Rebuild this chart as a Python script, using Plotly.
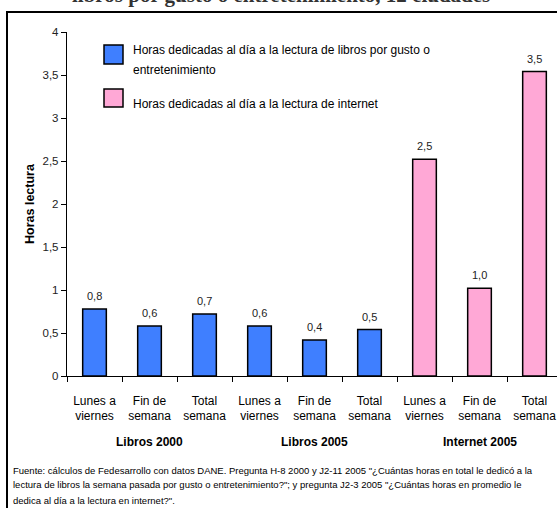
import plotly.graph_objects as go

# ---- data ----
categories = ["Lunes a<br>viernes", "Fin de<br>semana", "Total<br>semana"] * 3
groups = ["Libros 2000", "Libros 2005", "Internet 2005"]
libros_vals = [0.78, 0.58, 0.72, 0.58, 0.42, 0.54]
internet_vals = [2.52, 1.02, 3.54]
y_ticks = [0, 0.5, 1, 1.5, 2, 2.5, 3, 3.5, 4]
legend_libros = ["Horas dedicadas al día a la lectura de libros por gusto o", "entretenimiento"]
legend_internet = "Horas dedicadas al día a la lectura de internet"
y_title = "Horas lectura"
top_title = "libros por gusto o entretenimiento, 12 ciudades"
footnote = [
    "Fuente: cálculos de Fedesarrollo con datos DANE. Pregunta H-8 2000 y J2-11 2005 \"¿Cuántas horas en total le dedicó a la",
    "lectura de libros la semana pasada por gusto o entretenimiento?\"; y pregunta J2-3 2005 \"¿Cuántas horas en promedio le",
    "dedica al día a la lectura en internet?\".",
]

BLUE = "#3F7FFF"
PINK = "#FFA8D6"
FONT = "Liberation Sans, Arial, sans-serif"

W, H = 557, 508
L, R, T, B = 67, 0, 32, 132
PW, PH = W - L - R, H - T - B


def px_x(px):
    return (px - L) / PW


def px_y(py):
    return (H - B - py) / PH


x_lib = list(range(len(libros_vals)))
x_int = list(range(len(libros_vals), len(libros_vals) + len(internet_vals)))

fig = go.Figure()
fig.add_trace(go.Bar(x=x_lib, y=libros_vals, width=0.43, marker=dict(color=BLUE, line=dict(color="black", width=1.5)),
                     showlegend=False, hoverinfo="skip"))
fig.add_trace(go.Bar(x=x_int, y=internet_vals, width=0.43, marker=dict(color=PINK, line=dict(color="black", width=1.5)),
                     showlegend=False, hoverinfo="skip"))

annotations = []
# value labels
for xv, yv in zip(x_lib + x_int, libros_vals + internet_vals):
    annotations.append(dict(x=xv, y=yv, xref="x", yref="y", text=f"{yv:.1f}".replace(".", ","), showarrow=False,
                            yanchor="middle", yshift=13, font=dict(family=FONT, size=11, color="#222")))
# group labels
for i, g in enumerate(groups):
    annotations.append(dict(x=3 * i + 1, y=px_y(442), xref="x", yref="paper", text=g, showarrow=False,
                            font=dict(family=FONT, size=12, color="black", weight="bold"), yanchor="middle"))
# footnote
for i, line in enumerate(footnote):
    annotations.append(dict(x=px_x(11), y=px_y(470 + 15 * i), xref="paper", yref="paper", text=line, showarrow=False,
                            xanchor="left", yanchor="middle", font=dict(family=FONT, size=9.5, color="black")))
# legend text
annotations.append(dict(x=px_x(131), y=px_y(50), xref="paper", yref="paper", text=legend_libros[0], showarrow=False,
                        xanchor="left", yanchor="middle", font=dict(family=FONT, size=12, color="black")))
annotations.append(dict(x=px_x(131), y=px_y(70), xref="paper", yref="paper", text=legend_libros[1], showarrow=False,
                        xanchor="left", yanchor="middle", font=dict(family=FONT, size=12, color="black")))
annotations.append(dict(x=px_x(131), y=px_y(104), xref="paper", yref="paper", text=legend_internet, showarrow=False,
                        xanchor="left", yanchor="middle", font=dict(family=FONT, size=12, color="black")))
# y title
annotations.append(dict(x=px_x(21), y=px_y(204), xref="paper", yref="paper", text=y_title, showarrow=False,
                        textangle=-90, font=dict(family=FONT, size=12.5, color="black", weight="bold")))
# cut-off title at top
annotations.append(dict(x=px_x(281), y=px_y(9), xref="paper", yref="paper", text=top_title, showarrow=False,
                        yanchor="bottom", font=dict(family="Liberation Serif, Times New Roman, serif", size=21,
                                                    color="#333", weight="bold")))

shapes = [
    # outer frame
    dict(type="rect", xref="paper", yref="paper", x0=px_x(7), x1=px_x(600), y0=px_y(12), y1=px_y(560),
         line=dict(color="black", width=2), fillcolor="rgba(0,0,0,0)", layer="below"),
    # legend swatches
    dict(type="rect", xref="paper", yref="paper", x0=px_x(104), x1=px_x(123), y0=px_y(64), y1=px_y(45),
         line=dict(color="black", width=1.5), fillcolor=BLUE),
    dict(type="rect", xref="paper", yref="paper", x0=px_x(104), x1=px_x(123), y0=px_y(107), y1=px_y(89),
         line=dict(color="black", width=1.5), fillcolor=PINK),
]

fig.update_layout(
    width=W, height=H,
    margin=dict(l=L, r=R, t=T, b=B, pad=0),
    paper_bgcolor="white", plot_bgcolor="white",
    separators=",.",
    font=dict(family=FONT, size=11, color="black"),
    annotations=annotations,
    shapes=shapes,
    bargap=0.57,
)
fig.update_xaxes(
    range=[-0.5, (W - L) / 55 - 0.5],
    tickmode="array", tickvals=list(range(9)), ticktext=categories,
    ticks="", ticklabelstandoff=13,
    tickfont=dict(family=FONT, size=12, color="black"),
    showline=True, linecolor="black", linewidth=1.2,
    showgrid=False, zeroline=False,
    minor=dict(tickmode="array", tickvals=[i - 0.5 for i in range(9)], ticks="outside", ticklen=5,
               tickcolor="black", tickwidth=1, showgrid=False),
)
fig.update_yaxes(
    range=[0, 4], tickmode="array", tickvals=y_ticks,
    ticks="outside", ticklen=5, tickcolor="black", tickwidth=1,
    tickfont=dict(family=FONT, size=11.5, color="#222"),
    showline=True, linecolor="black", linewidth=1.2,
    showgrid=False, zeroline=False,
)

fig.write_html("out.html", config={"displayModeBar": False, "staticPlot": True},
               post_script="document.body.style.margin='0';document.body.style.overflow='hidden';")
